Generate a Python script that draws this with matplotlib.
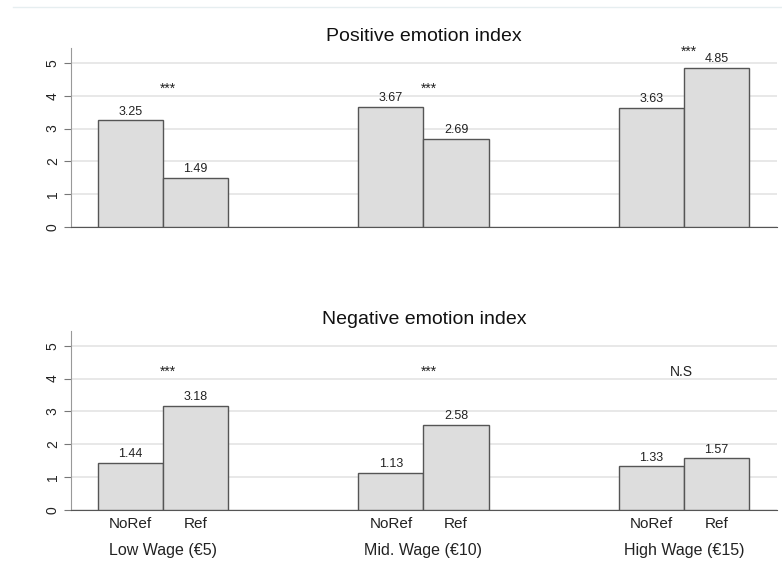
import matplotlib
matplotlib.use("Agg")
import matplotlib.pyplot as plt
import numpy as np

plt.rcParams["font.family"] = ["Liberation Sans", "DejaVu Sans"]

# ---------------------------------------------------------------------------
# Data
# ---------------------------------------------------------------------------
groups = ["Low Wage (€5)", "Mid. Wage (€10)", "High Wage (€15)"]
conditions = ["NoRef", "Ref"]

positive_noref = [3.25, 3.67, 3.63]
positive_ref = [1.49, 2.69, 4.85]
positive_sig = ["***", "***", "***"]

negative_noref = [1.44, 1.13, 1.33]
negative_ref = [3.18, 2.58, 1.57]
negative_sig = ["***", "***", "N.S"]

BAR_FILL = "#dddddd"
BAR_EDGE = "#555555"
WIDTH = 0.25


def draw_panel(ax, title, noref, ref, sig, show_xlabels):
    x = np.arange(len(groups))
    b1 = ax.bar(x - WIDTH / 2, noref, WIDTH, color=BAR_FILL, edgecolor=BAR_EDGE,
                linewidth=1.0, zorder=3)
    b2 = ax.bar(x + WIDTH / 2, ref, WIDTH, color=BAR_FILL, edgecolor=BAR_EDGE,
                linewidth=1.0, zorder=3)
    for bars in (b1, b2):
        for rect in bars:
            h = rect.get_height()
            ax.annotate(f"{h:.2f}", xy=(rect.get_x() + rect.get_width() / 2, h),
                        xytext=(0, 2), textcoords="offset points",
                        ha="center", va="bottom", fontsize=9, color="#222222")

    # significance markers above each pair
    for i, s in enumerate(sig):
        top = max(noref[i], ref[i])
        y = max(4.2, top + 0.5)
        if s.startswith("*"):
            ax.text(x[i] + 0.02, y, s, ha="center", va="center", fontsize=10,
                    color="#222222")
        else:
            ax.text(x[i] - 0.01, y, s, ha="center", va="center", fontsize=10,
                    color="#222222")

    ax.set_xlim(-0.353, 2.357)
    ax.set_ylim(0, 5.45)
    ax.set_yticks(range(6))
    ax.set_yticklabels([str(v) for v in range(6)], rotation=90, va="center",
                       fontsize=10, color="#222222")
    ax.tick_params(axis="y", length=5, width=0.8, color="#777777", pad=3)
    ax.yaxis.grid(True, color="#e4e4e4", linewidth=1.2, zorder=0)
    ax.set_axisbelow(True)

    for side in ("top", "right"):
        ax.spines[side].set_visible(False)
    ax.spines["left"].set_color("#999999")
    ax.spines["bottom"].set_color("#555555")

    if show_xlabels:
        ticks = []
        labels = []
        for i in range(len(groups)):
            ticks += [x[i] - WIDTH / 2, x[i] + WIDTH / 2]
            labels += conditions
        ax.set_xticks(ticks)
        ax.set_xticklabels(labels, fontsize=11, color="#222222")
        ax.tick_params(axis="x", length=0, pad=5)
        for i, g in enumerate(groups):
            ax.text(x[i], -1.22, g, ha="center", va="center", fontsize=11.5,
                    color="#222222", transform=ax.transData, clip_on=False)
    else:
        ax.set_xticks([])

    ax.set_title(title, fontsize=14, color="#111111", pad=5)


fig = plt.figure(figsize=(7.82, 5.65), dpi=100)
ax_top = fig.add_axes([0.0908, 0.598, 0.9028, 0.317])
ax_bot = fig.add_axes([0.0908, 0.0973, 0.9028, 0.317])

draw_panel(ax_top, "Positive emotion index", positive_noref, positive_ref,
           positive_sig, False)
draw_panel(ax_bot, "Negative emotion index", negative_noref, negative_ref,
           negative_sig, True)

# faint line at the very top of the figure
fig.add_artist(plt.Line2D([0.017, 1.0], [0.988, 0.988], color="#e6eef0",
                          linewidth=1.0))

fig.savefig("out.png", dpi=100)
